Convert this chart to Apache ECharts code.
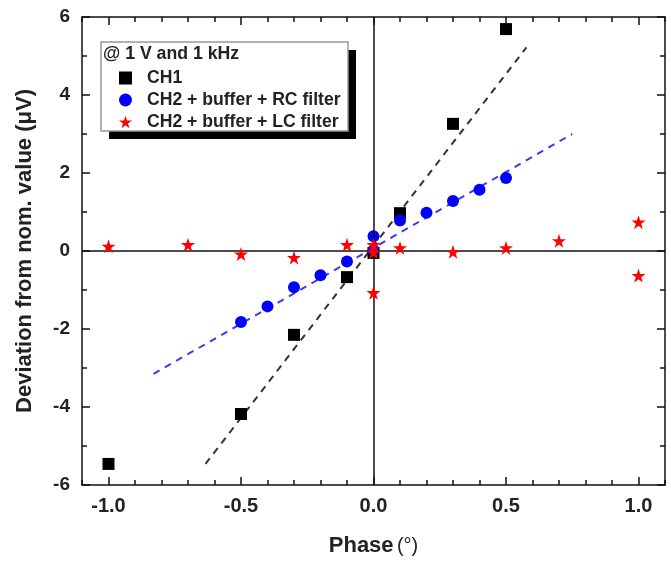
<!DOCTYPE html>
<html>
<head>
<meta charset="utf-8">
<script src="https://cdn.jsdelivr.net/npm/echarts@6/dist/echarts.min.js"></script>
<style>
  html, body { margin: 0; padding: 0; background: #fff; }
  #chart { width: 671px; height: 562px; }
</style>
</head>
<body>
<div id="chart"></div>
<script>
// Phase sweep at 1 V / 1 kHz: deviation from nominal value per channel
const ch1Phase = [-1.0, -0.5, -0.3, -0.1, 0.0, 0.1, 0.3, 0.5];
const ch1Dev   = [-5.46, -4.18, -2.15, -0.67, -0.05, 0.97, 3.26, 5.69];

const rcPhase = [-0.5, -0.4, -0.3, -0.2, -0.1, 0.0, 0.0, 0.1, 0.2, 0.3, 0.4, 0.5];
const rcDev   = [-1.82, -1.42, -0.93, -0.62, -0.27, 0.02, 0.38, 0.78, 0.98, 1.28, 1.57, 1.87];

const lcPhase = [-1.0, -0.7, -0.5, -0.3, -0.1, 0.0, 0.0, 0.0, 0.1, 0.3, 0.5, 0.7, 1.0, 1.0];
const lcDev   = [0.12, 0.16, -0.08, -0.17, 0.16, 0.16, -0.03, -1.07, 0.08, -0.02, 0.08, 0.26, 0.74, -0.63];

// Linear fit segments (endpoints in data units)
const ch1FitX = [-0.634, 0.577];
const ch1FitY = [-5.46, 5.22];
const rcFitX  = [-0.83, 0.75];
const rcFitY  = [-3.15, 3.0];

// Axis ticks
const xLabelTicks = [-1.0, -0.5, 0.0, 0.5, 1.0];
const xRange = [-1.1, 1.1];
const yRange = [-6, 6];
const yStep = 2;

const seriesNames = ['CH1', 'CH2 + buffer + RC filter', 'CH2 + buffer + LC filter'];
const legendTitle = '@ 1 V and 1 kHz';

const STAR = 'path://M50,0 L61.2,34.5 L97.6,34.5 L68.2,55.9 L79.4,90.5 L50,69.1 L20.6,90.5 L31.8,55.9 L2.4,34.5 L38.8,34.5 Z';
const FONT = '"Liberation Sans", Arial, sans-serif';

const zip = (xs, ys) => xs.map((x, i) => [x, ys[i]]);

const chart = echarts.init(document.getElementById('chart'), null, { renderer: 'canvas' });

const axisLineStyle = { color: '#111', width: 1.5 };
const tickLabelStyle = { fontFamily: FONT, fontWeight: 'bold', color: '#222' };

const option = {
  animation: false,
  backgroundColor: '#fff',
  grid: { left: 82, right: 6, top: 17, bottom: 77 },
  xAxis: [
    {
      type: 'value', position: 'bottom', min: xRange[0], max: xRange[1],
      axisLine: { onZero: false, lineStyle: axisLineStyle },
      axisTick: { inside: true, length: 8, customValues: xLabelTicks, lineStyle: axisLineStyle },
      axisLabel: { customValues: xLabelTicks, margin: 11, formatter: v => v.toFixed(1), fontSize: 20, ...tickLabelStyle },
      splitLine: { show: false },
      name: '{b|Phase} {n|(°)}', nameLocation: 'middle', nameGap: 50,
      nameTextStyle: {
        rich: {
          b: { fontFamily: FONT, fontWeight: 'bold', fontSize: 22, color: '#222' },
          n: { fontFamily: FONT, fontSize: 20, color: '#222' }
        }
      }
    },
    {
      type: 'value', position: 'bottom', min: xRange[0], max: xRange[1], interval: 0.1,
      axisLine: { show: false, onZero: false },
      axisTick: { inside: true, length: 5, lineStyle: axisLineStyle },
      axisLabel: { show: false }, splitLine: { show: false }
    },
    {
      type: 'value', position: 'top', min: xRange[0], max: xRange[1],
      axisLine: { onZero: false, lineStyle: axisLineStyle },
      axisTick: { inside: true, length: 8, customValues: xLabelTicks, lineStyle: axisLineStyle },
      axisLabel: { show: false }, splitLine: { show: false }
    },
    {
      type: 'value', position: 'top', min: xRange[0], max: xRange[1], interval: 0.1,
      axisLine: { show: false, onZero: false },
      axisTick: { inside: true, length: 5, lineStyle: axisLineStyle },
      axisLabel: { show: false }, splitLine: { show: false }
    }
  ],
  yAxis: [
    {
      type: 'value', position: 'left', min: yRange[0], max: yRange[1], interval: yStep,
      axisLine: { onZero: false, lineStyle: axisLineStyle },
      axisTick: { inside: true, length: 8, lineStyle: axisLineStyle },
      minorTick: { show: true, splitNumber: 2, length: 5, lineStyle: axisLineStyle },
      axisLabel: { margin: 12, fontSize: 19, ...tickLabelStyle },
      splitLine: { show: false },
      name: 'Deviation from nom. value (μV)', nameLocation: 'middle', nameGap: 46,
      nameTextStyle: { fontFamily: FONT, fontWeight: 'bold', fontSize: 22, color: '#222' }
    },
    {
      type: 'value', position: 'right', min: yRange[0], max: yRange[1], interval: yStep,
      axisLine: { onZero: false, lineStyle: axisLineStyle },
      axisTick: { inside: true, length: 8, lineStyle: axisLineStyle },
      minorTick: { show: true, splitNumber: 2, length: 5, lineStyle: axisLineStyle },
      axisLabel: { show: false }, splitLine: { show: false }
    }
  ],
  legend: {
    orient: 'vertical', left: 114, top: 64,
    itemWidth: 13, itemHeight: 13, itemGap: 4,
    data: [
      { name: seriesNames[0], icon: 'rect' },
      { name: seriesNames[1], icon: 'circle' },
      { name: seriesNames[2], icon: STAR }
    ],
    itemStyle: { opacity: 1 },
    textStyle: { fontFamily: FONT, fontWeight: 'bold', fontSize: 17.6, color: '#222', padding: [0, 0, 0, 10] },
    z: 20
  },
  graphic: [
    { type: 'rect', shape: { x: 109, y: 50, width: 247, height: 89 }, style: { fill: '#000' }, z: 10 },
    { type: 'rect', shape: { x: 101, y: 42, width: 247, height: 89 }, style: { fill: '#fff', stroke: '#999', lineWidth: 1.5 }, z: 11 },
    { type: 'text', left: 103, top: 45, style: { text: legendTitle, font: 'bold 17.7px ' + FONT, fill: '#222' }, z: 12 }
  ],
  series: [
    {
      name: 'fit-ch1', type: 'line', data: zip(ch1FitX, ch1FitY), showSymbol: false, silent: true,
      lineStyle: { color: '#333', width: 2, type: [7, 6] }, z: 2,
      markLine: {
        silent: true, symbol: 'none', label: { show: false },
        lineStyle: { color: '#111', width: 1.5, type: 'solid' },
        data: [{ xAxis: 0 }, { yAxis: 0 }]
      }
    },
    {
      name: 'fit-rc', type: 'line', data: zip(rcFitX, rcFitY), showSymbol: false, silent: true,
      lineStyle: { color: '#3b3bf0', width: 2, type: [7, 6] }, z: 2
    },
    {
      name: seriesNames[0], type: 'scatter', data: zip(ch1Phase, ch1Dev),
      symbol: 'rect', symbolSize: 12, itemStyle: { color: '#000', opacity: 1 }, z: 3
    },
    {
      name: seriesNames[1], type: 'scatter', data: zip(rcPhase, rcDev),
      symbol: 'circle', symbolSize: 12, itemStyle: { color: '#0000ff', opacity: 1 }, z: 4
    },
    {
      name: seriesNames[2], type: 'scatter', data: zip(lcPhase, lcDev),
      symbol: STAR, symbolSize: 14, itemStyle: { color: '#ff0000', opacity: 1 }, z: 5
    }
  ]
};

chart.setOption(option);
</script>
</body>
</html>
